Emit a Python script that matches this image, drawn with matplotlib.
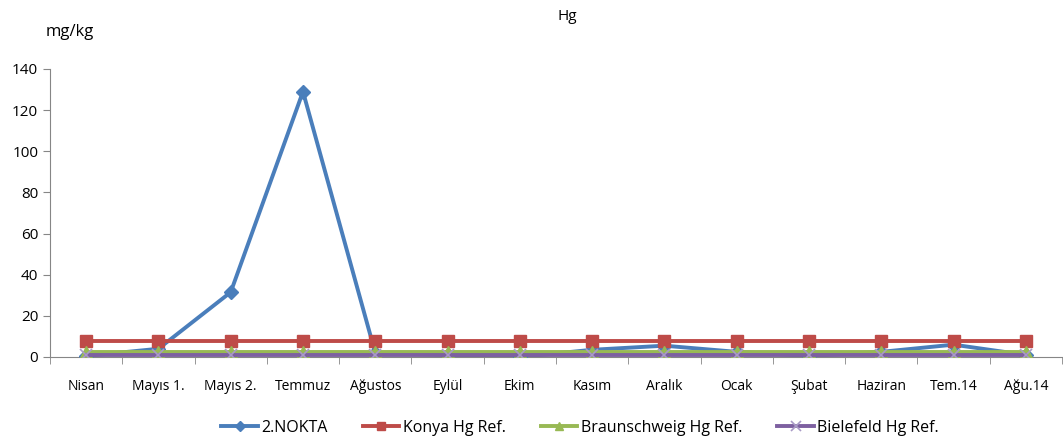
import matplotlib
matplotlib.use("Agg")
import matplotlib.pyplot as plt
import numpy as np

months = ["Nisan", "Mayıs 1.", "Mayıs 2.", "Temmuz", "Ağustos", "Eylül", "Ekim",
          "Kasım", "Aralık", "Ocak", "Şubat", "Haziran", "Tem.14", "Ağu.14"]
nokta2 = [0.5, 4, 31.5, 129, 2, 1, 0, 3.5, 5.5, 2.5, 0.5, 2.5, 6, 1]
konya_ref = [8] * 14
braunschweig_ref = [2.5] * 14
bielefeld_ref = [1] * 14
yticks = [0, 20, 40, 60, 80, 100, 120, 140]

plt.rcParams['font.family'] = ['Open Sans', 'DejaVu Sans']

fig = plt.figure(figsize=(10.63, 4.46), dpi=100)
ax = fig.add_axes([50 / 1063, 1 - 357 / 446, 1 - 50 / 1063 - 0.001, (357 - 69) / 446])

x = np.arange(len(months))
lw = 2.8
ax.plot(x, nokta2, color="#4A7EBB", lw=lw, marker="D", ms=7, label="2.NOKTA", zorder=2)
ax.plot(x, konya_ref, color="#BE4B48", lw=lw, marker="s", ms=8, label="Konya Hg Ref.", zorder=3)
ax.plot(x, braunschweig_ref, color="#98B954", lw=lw, marker="^", ms=8, label="Braunschweig Hg Ref.", zorder=4)
ax.plot(x, bielefeld_ref, color="#7D60A0", lw=lw, marker="x", ms=9, mew=1.2,
        markeredgecolor="#A99BC6", label="Bielefeld Hg Ref.", zorder=5)

ax.set_xlim(-0.5, len(months) - 0.5)
ax.set_ylim(0, 140)
ax.set_yticks(yticks)
ax.set_xticks(x)
ax.set_xticklabels(months, fontsize=10)
ax.set_xticks(np.arange(-0.5, len(months), 1), minor=True)
ax.tick_params(axis="x", which="major", length=0, pad=16)
ax.tick_params(axis="x", which="minor", length=5, color="#868686", direction="out")
ax.tick_params(axis="y", length=5, color="#868686", labelsize=11, direction="out")
for side in ("top", "right"):
    ax.spines[side].set_visible(False)
for side in ("left", "bottom"):
    ax.spines[side].set_color("#868686")
    ax.spines[side].set_zorder(1)

fig.text(567 / 1063, 1 - 16 / 446, "Hg", ha="center", va="center", fontsize=11)
fig.text(70 / 1063, 1 - 32 / 446, "mg/kg", ha="center", va="center", fontsize=12)

fig.legend(loc="center", bbox_to_anchor=(580 / 1063, 1 - 428 / 446), ncol=4,
           frameon=False, fontsize=11.5, handlelength=2.3, columnspacing=2.2,
           handletextpad=0.2, markerscale=0.8)

fig.savefig("out.png", dpi=100)
